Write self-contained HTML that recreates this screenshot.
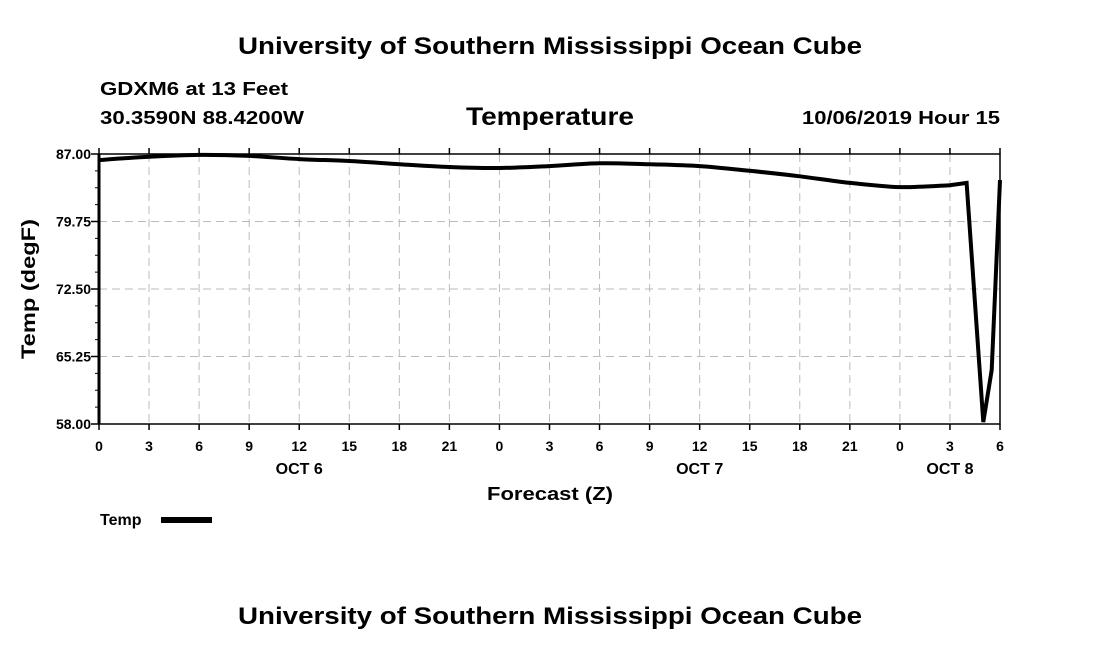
<!DOCTYPE html>
<html><head><meta charset="utf-8"><style>
body{margin:0;background:#fff;}
svg{display:block;font-family:"Liberation Sans",sans-serif;font-weight:bold;}
</style></head><body>
<svg id="chart" width="1100" height="650" viewBox="0 0 1100 650">
<text x="550" y="54" text-anchor="middle" font-size="24" textLength="624" lengthAdjust="spacingAndGlyphs">University of Southern Mississippi Ocean Cube</text>
<text x="100" y="95" font-size="18" textLength="188" lengthAdjust="spacingAndGlyphs">GDXM6 at 13 Feet</text>
<text x="100" y="124" font-size="18" textLength="204" lengthAdjust="spacingAndGlyphs">30.3590N 88.4200W</text>
<text x="550" y="125" text-anchor="middle" font-size="25" textLength="168" lengthAdjust="spacingAndGlyphs">Temperature</text>
<text x="1000" y="124" text-anchor="end" font-size="18" textLength="198" lengthAdjust="spacingAndGlyphs">10/06/2019 Hour 15</text>
<g id="grid"></g>
<g id="axes"></g>
<path id="line" fill="none" stroke="#000" stroke-width="4" stroke-linejoin="miter"/>
<text transform="translate(35,289) rotate(-90)" text-anchor="middle" font-size="19" textLength="140" lengthAdjust="spacingAndGlyphs">Temp (degF)</text>
<text x="550" y="500" text-anchor="middle" font-size="18" textLength="126" lengthAdjust="spacingAndGlyphs">Forecast (Z)</text>
<text x="100" y="525" font-size="16">Temp</text>
<rect x="161" y="517" width="51" height="6" fill="#000"/>
<text x="550" y="624" text-anchor="middle" font-size="24" textLength="624" lengthAdjust="spacingAndGlyphs">University of Southern Mississippi Ocean Cube</text>
</svg>
<script>
const hours=[0,3,6,9,12,15,18,21,24,27,30,33,36,39,42,45,48,51,52,53,53.5,54];
const temps=[86.35,86.7,86.9,86.8,86.45,86.25,85.9,85.6,85.5,85.7,86.0,85.9,85.7,85.2,84.6,83.9,83.45,83.65,83.9,58.2,63.8,84.2];
const yTicks=[58,65.25,72.5,79.75,87];
const xTickLabels=["0","3","6","9","12","15","18","21","0","3","6","9","12","15","18","21","0","3","6"];
const dayLabels=["OCT 6","OCT 7","OCT 8"];
const dayHours=[12,36,51];
const X0=99,X1=1000,Y0=424,Y1=154,XMAX=54,YMIN=58,YMAX=87;
const sx=h=>X0+(X1-X0)*h/XMAX;
const sy=v=>Y0-(Y0-Y1)*(v-YMIN)/(YMAX-YMIN);
const NS="http://www.w3.org/2000/svg";
const grid=document.getElementById('grid'),axes=document.getElementById('axes');
function mk(tag,attrs,parent){const e=document.createElementNS(NS,tag);for(const k in attrs)e.setAttribute(k,attrs[k]);parent.appendChild(e);return e;}
xTickLabels.forEach((lab,i)=>{
  const x=sx(i*3);
  if(i>0&&i<xTickLabels.length-1){const g=mk('line',{x1:x,x2:x,y1:Y1,y2:Y0,stroke:'#bbb','stroke-dasharray':'8,5'},grid);
  
  }
  const t1=mk('line',{x1:x,x2:x,y1:Y0,y2:Y0+6,stroke:'#000','stroke-width':1.5},axes);
  
  
  const t2=mk('line',{x1:x,x2:x,y1:Y1,y2:Y1-6,stroke:'#000','stroke-width':1.5},axes);
  
  
  const tx=mk('text',{x:x,y:Y0+27,'text-anchor':'middle','font-size':14},axes);
  tx.textContent=lab;
  
  
});
dayLabels.forEach((lab,i)=>{
  const tx=mk('text',{x:sx(dayHours[i]),y:Y0+50,'text-anchor':'middle','font-size':16},axes);
  tx.textContent=lab;
  
  
});
yTicks.forEach((v,i)=>{
  const y=sy(v);
  if(i>0&&i<yTicks.length-1){const g=mk('line',{x1:X0,x2:X1,y1:y,y2:y,stroke:'#bbb','stroke-dasharray':'8,5'},grid);
  
  }
  const t=mk('line',{x1:X0-8,x2:X0,y1:y,y2:y,stroke:'#000','stroke-width':1.5},axes);
  
  
  const tx=mk('text',{x:X0-8,y:y+5,'text-anchor':'end','font-size':14},axes);
  tx.textContent=v.toFixed(2);
  
  
  if(i<yTicks.length-1){for(let k=1;k<4;k++){const yy=sy(v+(yTicks[i+1]-v)*k/4);
    const m=mk('line',{x1:X0-4,x2:X0,y1:yy,y2:yy,stroke:'#000'},axes);
    
    }}
});
const frame=mk('rect',{x:X0,y:Y1,width:X1-X0,height:Y0-Y1,fill:'none',stroke:'#000','stroke-width':1.5},axes);


const ax=mk('line',{x1:X0,x2:X0,y1:Y1,y2:Y0,stroke:'#000','stroke-width':3},axes);


// smooth curve through points for the gradual part (Catmull-Rom), straight for the spike
const pts=hours.map((h,i)=>[sx(h),sy(temps[i])]);
let d='M'+pts[0][0].toFixed(1)+','+pts[0][1].toFixed(1);
for(let i=0;i<pts.length-1;i++){
  const p0=pts[Math.max(0,i-1)],p1=pts[i],p2=pts[i+1],p3=pts[Math.min(pts.length-1,i+2)];
  if(hours[i]>=51){d+='L'+p2[0].toFixed(1)+','+p2[1].toFixed(1);continue;}
  const q3=hours[i+1]>=51?p2:p3;
  const c1=[p1[0]+(p2[0]-p0[0])/6,p1[1]+(p2[1]-p0[1])/6];
  const c2=[p2[0]-(q3[0]-p1[0])/6,p2[1]-(q3[1]-p1[1])/6];
  d+='C'+c1.map(v=>v.toFixed(1)).join(',')+' '+c2.map(v=>v.toFixed(1)).join(',')+' '+p2[0].toFixed(1)+','+p2[1].toFixed(1);
}
document.getElementById('line').setAttribute('d',d);
</script>
</body></html>
